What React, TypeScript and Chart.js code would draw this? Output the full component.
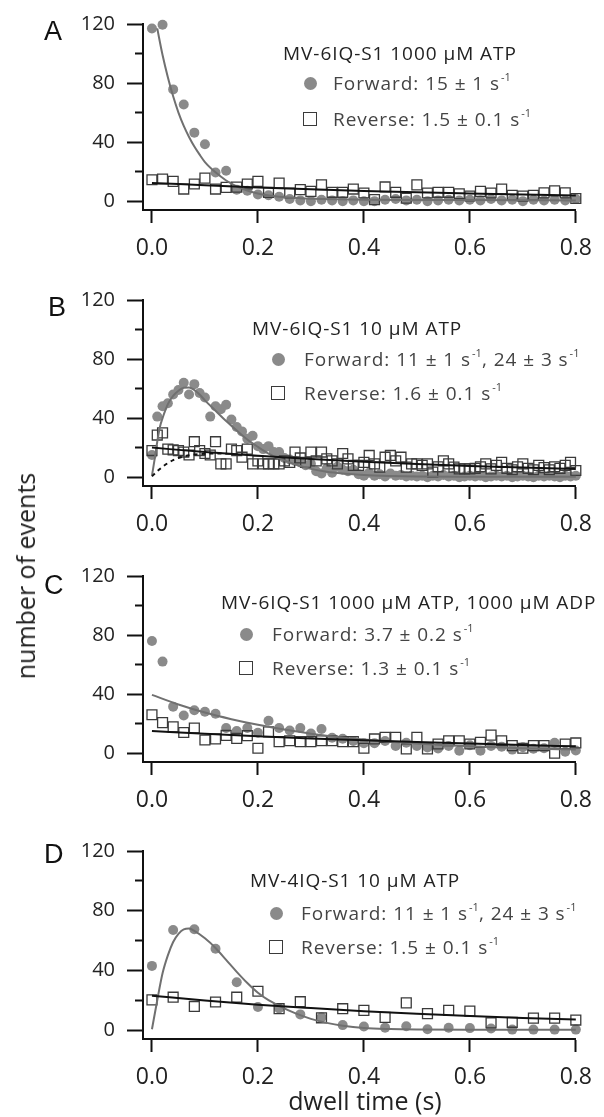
import React, { useEffect, useRef } from "react";
import { Chart, registerables } from "chart.js";

Chart.register(...registerables);

const FONT = '"Open Sans", "DejaVu Sans", sans-serif';

// ---------- shared axis ticks ----------
const X_TICKS = [0, 0.2, 0.4, 0.6, 0.8];
const Y_TICKS = [0, 20, 40, 60, 80, 100, 120];
const Y_LABELED = [0, 40, 80, 120];

// ---------- bins ----------
const BINS_02 = [0, 0.02, 0.04, 0.06, 0.08, 0.1, 0.12, 0.14, 0.16, 0.18, 0.2, 0.22, 0.24, 0.26, 0.28, 0.3, 0.32, 0.34, 0.36, 0.38, 0.4, 0.42, 0.44, 0.46, 0.48, 0.5, 0.52, 0.54, 0.56, 0.58, 0.6, 0.62, 0.64, 0.66, 0.68, 0.7, 0.72, 0.74, 0.76, 0.78, 0.8];
const BINS_01 = [0, 0.01, 0.02, 0.03, 0.04, 0.05, 0.06, 0.07, 0.08, 0.09, 0.1, 0.11, 0.12, 0.13, 0.14, 0.15, 0.16, 0.17, 0.18, 0.19, 0.2, 0.21, 0.22, 0.23, 0.24, 0.25, 0.26, 0.27, 0.28, 0.29, 0.3, 0.31, 0.32, 0.33, 0.34, 0.35, 0.36, 0.37, 0.38, 0.39, 0.4, 0.41, 0.42, 0.43, 0.44, 0.45, 0.46, 0.47, 0.48, 0.49, 0.5, 0.51, 0.52, 0.53, 0.54, 0.55, 0.56, 0.57, 0.58, 0.59, 0.6, 0.61, 0.62, 0.63, 0.64, 0.65, 0.66, 0.67, 0.68, 0.69, 0.7, 0.71, 0.72, 0.73, 0.74, 0.75, 0.76, 0.77, 0.78, 0.79, 0.8];
const BINS_04 = [0, 0.04, 0.08, 0.12, 0.16, 0.2, 0.24, 0.28, 0.32, 0.36, 0.4, 0.44, 0.48, 0.52, 0.56, 0.6, 0.64, 0.68, 0.72, 0.76, 0.8];

// ---------- Panel A: MV-6IQ-S1 1000 uM ATP ----------
const A_FWD = [117, 119.5, 75.7, 65.5, 46.4, 38.6, 19.4, 20.6, 7.8, 7.1, 4.5, 4, 3, 1.5, 0.5, 0, 1, 0.5, 0, 0.5, 0, 0, 1, 1.5, 0.5, 1, 0, 0.5, 1, 0.5, 1, 0.5, 1.5, 0.5, 1, 0, 1, 0.5, 1, 0.5, 1.5];
const A_REV = [14.5, 15, 13.4, 8.2, 11.6, 15.6, 8.2, 9.3, 9.5, 11.6, 13.4, 5.9, 12.3, 5.5, 7.8, 6.6, 11.1, 6, 6, 8.2, 5.5, 1, 9.6, 6, 2, 11, 5.5, 6, 6, 5, 3.5, 6.6, 5.5, 8.2, 4, 3.4, 4, 5.6, 7, 5.6, 1.8];
const A_FWD_FIT_X = [0.01, 0.02, 0.03, 0.04, 0.05, 0.06, 0.07, 0.08, 0.09, 0.1, 0.12, 0.14, 0.16, 0.18, 0.2, 0.24, 0.28, 0.32, 0.4, 0.5, 0.6, 0.7, 0.8];
const A_FWD_FIT_Y = [117, 99, 84, 71, 60, 51, 43.5, 37, 31.5, 26.5, 19.5, 14, 10, 7.2, 5.2, 3, 2, 1.5, 1, 0.8, 0.7, 0.6, 0.5];
const A_REV_FIT_X = [0, 0.1, 0.2, 0.3, 0.4, 0.5, 0.6, 0.7, 0.8];
const A_REV_FIT_Y = [12.3, 10.8, 9.3, 8, 6.9, 6, 5.2, 4.5, 3.8];

// ---------- Panel B: MV-6IQ-S1 10 uM ATP ----------
const B_FWD = [15, 41, 48, 50, 56, 59, 64, 56, 63, 57, 54, 41, 48, 46, 49, 39, 34, 31, 26, 28, 21, 19, 21, 17, 17, 13, 12, 11, 10, 8, 9, 4, 2.5, 6, 3, 7, 5, 4, 5, 2, 1, 3, 1, 2, 0.5, 2.5, 1, 1.5, 0.5, 1, 0.5, 1, 0, 1, 0.5, 1.5, 0.5, 1, 0, 0.5, 1, 0.5, 1, 0, 0.5, 1, 0.5, 1, 0, 0.5, 1, 0.5, 0, 1, 0.5, 1, 0.5, 0, 1, 0.5, 1];
const B_REV = [18, 28.5, 30, 19, 18.5, 18, 17, 15, 24, 18, 16, 15, 24, 9, 9, 19, 18, 13.5, 19, 9, 11, 9, 9, 9, 9, 11, 10, 17, 13, 10, 17, 11, 17, 12.4, 11, 9, 16, 12.4, 8, 8, 10, 14.7, 9, 6.8, 13.5, 14.7, 11, 13.5, 6.8, 9, 9, 8, 9, 3.4, 7, 11, 9, 6.8, 5.6, 5.6, 5.6, 6, 7, 9, 5.6, 8, 10, 6, 5, 7, 9, 6, 5, 8, 6.5, 5, 7, 6, 8, 10, 4.5];
const B_FWD_FIT_X = [0, 0.005, 0.01, 0.015, 0.02, 0.025, 0.03, 0.04, 0.05, 0.06, 0.07, 0.08, 0.09, 0.1, 0.12, 0.14, 0.16, 0.18, 0.2, 0.22, 0.24, 0.26, 0.28, 0.3, 0.33, 0.36, 0.4, 0.45, 0.5, 0.6, 0.7, 0.8];
const B_FWD_FIT_Y = [1, 12, 24, 34, 40, 45, 49.5, 55, 58.5, 60.5, 60.8, 59, 56, 52, 45, 38, 31.6, 25.5, 20.5, 16, 12.7, 10, 7.6, 5.6, 3.6, 2.4, 1.4, 0.8, 0.5, 0.3, 0.2, 0.2];
const B_REV_FIT_X = [0, 0.1, 0.2, 0.3, 0.4, 0.5, 0.6, 0.7, 0.8];
const B_REV_FIT_Y = [20, 17, 14.5, 12.3, 10.4, 8.9, 7.6, 6.5, 5.5];
const B_RISE_X = [0, 0.01, 0.02, 0.03, 0.04, 0.05, 0.06, 0.08, 0.1, 0.12, 0.14];
const B_RISE_Y = [0.5, 4, 7, 9.5, 11.5, 13, 14, 15.3, 15.9, 16.1, 15.9];

// ---------- Panel C: MV-6IQ-S1 1000 uM ATP, 1000 uM ADP ----------
const C_FWD = [76, 62, 31.5, 25.5, 29, 28, 26.7, 17, 15, 17, 13.8, 22, 17, 15.3, 17, 13.3, 16.4, 10.4, 9.8, 8.2, 6.7, 6.7, 8.2, 4.9, 7.1, 4.9, 3.8, 3.1, 4.9, 1.6, 5.3, 1.6, 4.9, 4.4, 2.4, 4, 3, 3.3, 7, 1, 1.8];
const C_REV = [26, 20.7, 17.8, 14, 17, 8.9, 9.6, 12, 10, 11.8, 3.3, 14.4, 7.8, 8.4, 7.8, 7.8, 8.4, 8.4, 7.8, 7.8, 3.3, 9.6, 10.7, 10.7, 2.9, 10.7, 2.9, 6.2, 8.4, 8.4, 6.2, 7.3, 12.2, 8.4, 5.1, 3.3, 5.1, 5.1, 0, 6.2, 6.9];
const C_FWD_FIT_X = [0, 0.05, 0.1, 0.15, 0.2, 0.25, 0.3, 0.35, 0.4, 0.5, 0.6, 0.7, 0.8];
const C_FWD_FIT_Y = [39.5, 33, 27.5, 23, 19.2, 16, 13.2, 11, 9.2, 6.5, 4.6, 3.3, 2.4];
const C_REV_FIT_X = [0, 0.1, 0.2, 0.3, 0.4, 0.5, 0.6, 0.7, 0.8];
const C_REV_FIT_Y = [15, 13.2, 11.5, 10, 8.7, 7.5, 6.5, 5.5, 4.6];

// ---------- Panel D: MV-4IQ-S1 10 uM ATP ----------
const D_FWD = [43, 67, 67.5, 54.5, 32, 15.5, 14.5, 10.5, 8.5, 3.3, 2.4, 1.6, 2.5, 0.5, 1.5, 1.3, 1, 0.3, 0.3, 0.3, 0.3];
const D_REV = [20.2, 22, 15.8, 18.8, 22, 26, 14.3, 19, 8.2, 14.3, 13.2, 8.5, 18.2, 11, 13.2, 12.7, 4.8, 5.2, 8, 8, 6.7];
const D_FWD_FIT_X = [0, 0.01, 0.02, 0.03, 0.04, 0.05, 0.06, 0.07, 0.08, 0.1, 0.12, 0.14, 0.16, 0.18, 0.2, 0.22, 0.24, 0.27, 0.3, 0.33, 0.36, 0.4, 0.45, 0.5, 0.6, 0.7, 0.8];
const D_FWD_FIT_Y = [0.5, 20, 38, 50, 59, 64.5, 67.5, 68, 66.5, 61.5, 55, 47, 39, 31.5, 25, 20, 16.2, 11.3, 7.5, 4.8, 2.9, 1.4, 0.7, 0.4, 0.2, 0.2, 0.2];
const D_REV_FIT_X = [0, 0.1, 0.2, 0.3, 0.4, 0.5, 0.6, 0.7, 0.8];
const D_REV_FIT_Y = [23, 19.8, 17, 14.7, 12.6, 10.9, 9.4, 8.1, 7];

// ---------- legend texts (segments alternate normal / superscript) ----------
const A_TITLE = "MV-6IQ-S1 1000 μM ATP";
const A_FWD_TXT = ["Forward: 15 ± 1 s", "-1"];
const A_REV_TXT = ["Reverse: 1.5 ± 0.1 s", "-1"];
const B_TITLE = "MV-6IQ-S1 10 μM ATP";
const B_FWD_TXT = ["Forward: 11 ± 1 s", "-1", ", 24 ± 3 s", "-1"];
const B_REV_TXT = ["Reverse: 1.6 ± 0.1 s", "-1"];
const C_TITLE = "MV-6IQ-S1 1000 μM ATP, 1000 μM ADP";
const C_FWD_TXT = ["Forward: 3.7 ± 0.2 s", "-1"];
const C_REV_TXT = ["Reverse: 1.3 ± 0.1 s", "-1"];
const D_TITLE = "MV-4IQ-S1 10 μM ATP";
const D_FWD_TXT = ["Forward: 11 ± 1 s", "-1", ", 24 ± 3 s", "-1"];
const D_REV_TXT = ["Reverse: 1.5 ± 0.1 s", "-1"];

const Y_TITLE = "number of events";
const X_TITLE = "dwell time (s)";

// ---------- styles ----------
const CIRCLE_FILL = "#8a8a8a";
const FWD_LINE = "#707070";
const SQUARE_EDGE = "#3a3a3a";
const REV_LINE = "#111111";

const pts = (xs: number[], ys: number[]) => xs.map((x, i) => ({ x, y: ys[i] }));

type PanelData = {
  fwdX: number[]; fwd: number[]; revX: number[]; rev: number[];
  fwdFitX: number[]; fwdFitY: number[]; revFitX: number[]; revFitY: number[];
  riseX?: number[]; riseY?: number[];
};

const PANELS: { letter: string; data: PanelData; title: string; fwdTxt: string[]; revTxt: string[] }[] = [
  { letter: "A", title: A_TITLE, fwdTxt: A_FWD_TXT, revTxt: A_REV_TXT,
    data: { fwdX: BINS_02, fwd: A_FWD, revX: BINS_02, rev: A_REV, fwdFitX: A_FWD_FIT_X, fwdFitY: A_FWD_FIT_Y, revFitX: A_REV_FIT_X, revFitY: A_REV_FIT_Y } },
  { letter: "B", title: B_TITLE, fwdTxt: B_FWD_TXT, revTxt: B_REV_TXT,
    data: { fwdX: BINS_01, fwd: B_FWD, revX: BINS_01, rev: B_REV, fwdFitX: B_FWD_FIT_X, fwdFitY: B_FWD_FIT_Y, revFitX: B_REV_FIT_X, revFitY: B_REV_FIT_Y, riseX: B_RISE_X, riseY: B_RISE_Y } },
  { letter: "C", title: C_TITLE, fwdTxt: C_FWD_TXT, revTxt: C_REV_TXT,
    data: { fwdX: BINS_02, fwd: C_FWD, revX: BINS_02, rev: C_REV, fwdFitX: C_FWD_FIT_X, fwdFitY: C_FWD_FIT_Y, revFitX: C_REV_FIT_X, revFitY: C_REV_FIT_Y } },
  { letter: "D", title: D_TITLE, fwdTxt: D_FWD_TXT, revTxt: D_REV_TXT,
    data: { fwdX: BINS_04, fwd: D_FWD, revX: BINS_04, rev: D_REV, fwdFitX: D_FWD_FIT_X, fwdFitY: D_FWD_FIT_Y, revFitX: D_REV_FIT_X, revFitY: D_REV_FIT_Y } },
];

// layout (page coordinates)
const CANVAS_TOPS = [0, 276, 552, 827];
const CANVAS_HEIGHTS = [276, 276, 275, 290];
const AREA_HEIGHTS = [187, 187, 187, 189];
const LEGEND_POS = [
  { tx: 283, ty: 53, mx: 310, fy: 83, ry: 119, lx: 333 },
  { tx: 252, ty: 328, mx: 278, fy: 359, ry: 393, lx: 304 },
  { tx: 221, ty: 602, mx: 246, fy: 634, ry: 668, lx: 272 },
  { tx: 250, ty: 880, mx: 276, fy: 913, ry: 947, lx: 301 },
];
const LETTER_POS = [
  { x: 44, y: 31 },
  { x: 48, y: 307 },
  { x: 44, y: 585 },
  { x: 44, y: 854 },
];

function PanelChart({ data, height, top, area }: { data: PanelData; height: number; top: number; area: number }) {
  const ref = useRef<HTMLCanvasElement>(null);
  useEffect(() => {
    if (!ref.current) return;
    const datasets: any[] = [
      { data: pts(data.fwdFitX, data.fwdFitY), showLine: true, pointRadius: 0, borderColor: FWD_LINE, borderWidth: 2,
        cubicInterpolationMode: "monotone", order: 1, clip: false },
      { data: pts(data.revFitX, data.revFitY), showLine: true, pointRadius: 0, borderColor: REV_LINE, borderWidth: 2,
        cubicInterpolationMode: "monotone", order: 0, clip: false },
      { data: pts(data.revX, data.rev), pointStyle: "rect", pointRadius: 7, borderColor: SQUARE_EDGE, borderWidth: 1.3,
        backgroundColor: "rgba(0,0,0,0)", order: 2, clip: false },
      { data: pts(data.fwdX, data.fwd), pointStyle: "circle", pointRadius: 5, backgroundColor: CIRCLE_FILL, borderWidth: 0,
        order: 3, clip: false },
    ];
    if (data.riseX && data.riseY) {
      datasets.push({ data: pts(data.riseX, data.riseY), showLine: true, pointRadius: 0, borderColor: REV_LINE, borderWidth: 2,
        borderDash: [4, 4], cubicInterpolationMode: "monotone", order: 0, clip: false });
    }
    const chart = new Chart(ref.current, {
      type: "scatter",
      data: { datasets },
      options: {
        responsive: false,
        maintainAspectRatio: false,
        animation: false,
        events: [],
        layout: { padding: { left: 0, right: 25, top: 23, bottom: height - 23 - area - 50 } },
        plugins: { legend: { display: false }, tooltip: { enabled: false } },
        scales: {
          x: {
            type: "linear", min: -0.0169, max: 0.8,
            afterBuildTicks: (s: any) => { s.ticks = X_TICKS.map((v) => ({ value: v })); },
            afterFit: (s: any) => { s.height = 50; },
            grid: { display: true, drawOnChartArea: false, drawTicks: true, tickLength: 13, tickWidth: 2, tickColor: "#111" },
            border: { display: true, width: 2, color: "#111" },
            ticks: { font: { family: FONT, size: 23 }, color: "#222", padding: 12, maxRotation: 0, autoSkip: false,
              callback: (v: any) => Number(v).toFixed(1) },
          },
          y: {
            type: "linear", min: -6, max: 120,
            afterBuildTicks: (s: any) => { s.ticks = Y_TICKS.map((v) => ({ value: v })); },
            afterFit: (s: any) => { s.width = 143; },
            grid: { display: true, drawOnChartArea: false, drawTicks: true, tickLength: 16, tickWidth: 2, tickColor: "#111",
              tickBorderDash: (ctx: any) => (ctx.tick && Y_LABELED.includes(ctx.tick.value) ? [] : [0, 8, 8, 100]) },
            border: { display: true, width: 2, color: "#111" },
            ticks: { font: { family: FONT, size: 20 }, color: "#222", padding: 12, autoSkip: false,
              callback: (v: any) => (Y_LABELED.includes(Number(v)) ? String(v) : "") },
          },
        },
      } as any,
    });
    return () => chart.destroy();
  }, []);
  return <canvas ref={ref} width={604} height={height} style={{ position: "absolute", left: 0, top, width: 604, height }} />;
}

function Segs({ segs }: { segs: string[] }) {
  return (
    <>
      {segs.map((s, i) =>
        i % 2 === 0 ? <span key={i}>{s}</span> : (
          <span key={i} style={{ fontSize: 11, position: "relative", top: -9, marginLeft: 1, letterSpacing: 0 }}>{s}</span>
        )
      )}
    </>
  );
}

export default function App() {
  const textStyle: React.CSSProperties = {
    position: "absolute", whiteSpace: "nowrap", fontFamily: FONT, fontSize: 19, lineHeight: "26px",
    letterSpacing: 0.95, color: "#222",
  };
  return (
    <div style={{ position: "absolute", left: 0, top: 0, width: 604, height: 1117, background: "#fff", overflow: "hidden" }}>
      {PANELS.map((p, i) => (
        <PanelChart key={p.letter} data={p.data} top={CANVAS_TOPS[i]} height={CANVAS_HEIGHTS[i]} area={AREA_HEIGHTS[i]} />
      ))}
      {PANELS.map((p, i) => {
        const L = LEGEND_POS[i];
        return (
          <React.Fragment key={"lg" + i}>
            <div style={{ ...textStyle, left: L.tx, top: L.ty - 13 }}>{p.title}</div>
            <div style={{ position: "absolute", left: L.mx - 6.5, top: L.fy - 6.5, width: 13, height: 13, borderRadius: "50%", background: CIRCLE_FILL }} />
            <div style={{ ...textStyle, left: L.lx, top: L.fy - 13, color: "#444" }}><Segs segs={p.fwdTxt} /></div>
            <div style={{ position: "absolute", left: L.mx - 7, top: L.ry - 7, width: 14, height: 14, boxSizing: "border-box", border: "1.3px solid " + SQUARE_EDGE }} />
            <div style={{ ...textStyle, left: L.lx, top: L.ry - 13, color: "#444" }}><Segs segs={p.revTxt} /></div>
            <div style={{ position: "absolute", left: LETTER_POS[i].x, top: LETTER_POS[i].y - 15, fontFamily: '"Liberation Sans", Arial, sans-serif', fontSize: 27, lineHeight: "30px", color: "#111" }}>{p.letter}</div>
          </React.Fragment>
        );
      })}
      <div style={{ position: "absolute", left: 25, top: 576, width: 0, height: 0 }}>
        <div style={{ position: "absolute", left: 0, top: 0, transform: "translate(-50%, -50%) rotate(-90deg)", whiteSpace: "nowrap", fontFamily: FONT, fontSize: 25, lineHeight: "30px", color: "#222" }}>{Y_TITLE}</div>
      </div>
      <div style={{ position: "absolute", left: 365, top: 1100, width: 0, height: 0 }}>
        <div style={{ position: "absolute", left: 0, top: 0, transform: "translate(-50%, -50%)", whiteSpace: "nowrap", fontFamily: FONT, fontSize: 25, lineHeight: "30px", color: "#222" }}>{X_TITLE}</div>
      </div>
    </div>
  );
}
